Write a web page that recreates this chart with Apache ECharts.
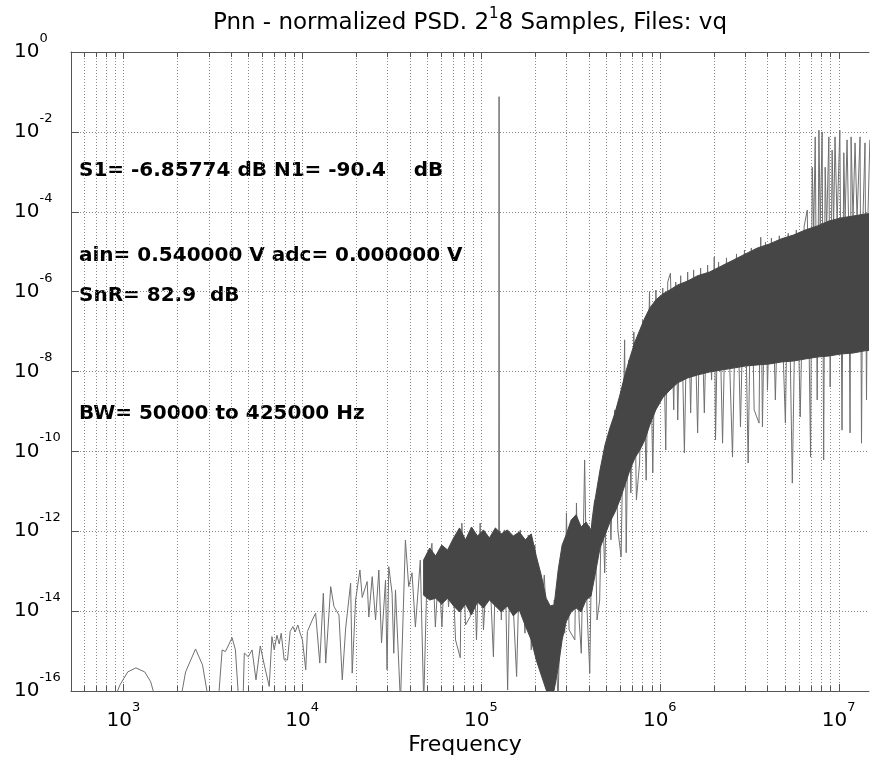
<!DOCTYPE html>
<html>
<head>
<meta charset="utf-8">
<script src="https://cdn.jsdelivr.net/npm/echarts@6/dist/echarts.min.js"></script>
<style>
html,body{margin:0;padding:0;background:#fff;}
#chart{width:872px;height:763px;}
</style>
</head>
<body>
<div id="chart"></div>
<script>
// ---------------- data ----------------
const titlePre = 'Pnn - normalized PSD. 2';
const titleSup = '1';
const titlePost = '8 Samples, Files: vq';
const xAxisName = 'Frequency';
const notes = [
  'S1= -6.85774 dB N1= -90.4    dB',
  'ain= 0.540000 V adc= 0.000000 V',
  'SnR= 82.9  dB',
  'BW= 50000 to 425000 Hz'
];
const xMin = 510, xMax = 1.479e7;
const yMin = 1e-16, yMax = 1;
const xMajorTicks = [1e3, 1e4, 1e5, 1e6, 1e7];
const xMinorMultipliers = [2, 3, 4, 5, 6, 7, 8, 9];

// sparse trace (lobes, noise, spikes): frequency [Hz] and PSD
const traceFreq = [
  889, 956, 1059, 1175, 1318, 1423, 1518,
  2090, 2230, 2535, 2773, 2994,
  3404, 3570, 3724, 4059, 4236, 4416,
  4674, 4750, 5000, 5248, 5521, 5834, 6142, 6548, 6778, 6983, 7228, 7447, 7640, 7938, 8283, 8573, 8876, 9141, 9463, 9746,
  1.004e4, 1.048e4, 1.07e4, 1.14e4, 1.19e4, 1.255e4, 1.314e4, 1.355e4, 1.445e4, 1.507e4, 1.607e4, 1.677e4, 1.752e4, 1.867e4, 1.906e4, 1.991e4,
  2.105e4, 2.168e4, 2.31e4, 2.36e4, 2.465e4, 2.574e4, 2.685e4, 2.78e4, 2.927e4, 2.985e4, 3.052e4, 3.185e4, 3.255e4, 3.327e4, 3.548e4, 3.781e4, 3.946e4,
  4.118e4, 4.3e4, 4.58e4, 4.786e4, 4.99e4, 5.32e4, 5.56e4, 5.8e4, 6.05e4, 6.32e4, 6.59e4, 6.88e4, 7.21e4, 7.66e4, 7.82e4, 8.2e4, 8.71e4, 9.08e4, 9.44e4, 9.9e4,
  1.033e5, 1.101e5, 1.174e5, 1.219e5, 1.258e5, 1.263e5, 1.268e5, 1.30e5, 1.352e5, 1.41e5, 1.459e5, 1.583e5, 1.66e5, 1.762e5, 1.84e5, 1.911e5, 2.0e5, 2.09e5, 2.26e5, 2.44e5, 2.57e5, 2.70e5, 2.81e5, 2.94e5,
  3.006e5, 3.11e5, 3.35e5, 3.42e5, 3.54e5, 3.64e5, 3.80e5, 3.92e5, 4.06e5, 4.18e5, 4.325e5, 4.457e5, 4.613e5, 4.75e5, 4.92e5, 5.13e5, 5.33e5, 5.59e5, 5.83e5, 6.08e5, 6.36e5, 6.49e5, 6.72e5, 6.89e5, 7.16e5, 7.4e5, 7.71e5, 8.04e5, 8.39e5, 8.76e5, 9.14e5, 9.51e5, 9.96e5,
  1.039e6, 1.08e6, 1.108e6, 1.147e6, 1.197e6, 1.228e6, 1.26e6, 1.309e6, 1.373e6, 1.432e6, 1.488e6, 1.546e6, 1.628e6, 1.692e6, 1.775e6, 1.851e6, 1.949e6, 2.017e6, 2.05e6, 2.132e6, 2.244e6, 2.36e6, 2.551e6, 2.685e6, 2.826e6, 2.975e6,
  3.12e6, 3.25e6, 3.37e6, 3.59e6, 3.67e6, 3.75e6, 3.90e6, 4.0e6, 4.21e6, 4.43e6, 4.66e6, 5.04e6, 5.23e6, 5.51e6, 5.80e6, 6.10e6, 6.42e6, 6.68e6, 6.97e6, 7.12e6, 7.26e6, 7.40e6, 7.59e6, 7.76e6, 7.89e6, 8.09e6, 8.25e6, 8.41e6, 8.57e6, 8.82e6, 8.97e6,
  9.2e6, 9.38e6, 9.55e6, 9.81e6, 1.016e7, 1.045e7, 1.069e7, 1.087e7, 1.115e7, 1.137e7, 1.159e7, 1.174e7, 1.204e7, 1.236e7, 1.268e7, 1.318e7, 1.343e7, 1.369e7, 1.405e7, 1.432e7, 1.459e7, 1.496e7
];
const tracePsd = [
  6e-17, 1.4e-16, 3.0e-16, 3.8e-16, 3.0e-16, 1.7e-16, 6e-17,
  6e-17, 3.0e-16, 1.13e-15, 4.5e-16, 6e-17,
  6e-17, 1.07e-15, 9.7e-16, 2.16e-15, 1.07e-15, 6e-17,
  6e-17, 8.9e-16, 7.2e-16, 1.07e-15, 1.9e-16, 1.34e-15, 4.5e-16, 1.3e-16, 2.3e-15, 1.07e-15, 2.5e-15, 1.5e-15, 2.8e-15, 6.0e-16, 6.0e-16, 3.1e-15, 4.1e-15, 3.0e-15, 4.5e-15, 2.8e-15,
  1.9e-15, 3.4e-16, 3.1e-15, 6.0e-15, 8.9e-15, 5.0e-16, 2.8e-14, 5.0e-16, 4.1e-14, 1.3e-14, 8.0e-15, 1.9e-16, 3.8e-15, 5.0e-14, 2.8e-16, 1.9e-14,
  1.07e-13, 2.2e-14, 5.5e-14, 7.1e-15, 7.3e-14, 6.0e-15, 1.07e-13, 1.6e-15, 6.0e-14, 3.4e-16, 1.3e-13, 2.8e-14, 8.8e-16, 3.4e-14, 5e-17, 6.0e-13, 4.1e-14,
  9.1e-14, 4.0e-15, 1.9e-13, 5e-17, 7.2e-14, 5.0e-13, 4.0e-15, 1.27e-13, 4.0e-15, 3.4e-13, 1.27e-14, 4.1e-13, 1.9e-15, 6.8e-16, 1.6e-12, 4.5e-15, 7.3e-15, 1.07e-12, 1.9e-15, 1.6e-12,
  3.4e-15, 6e-13, 7.2e-16, 1.08e-12, 6e-13, 7.6e-2, 6e-13, 6.0e-15, 1.08e-12, 1.06e-16, 4.5e-13, 2.3e-16, 1.08e-12, 2.8e-15, 8.1e-13, 1.07e-15, 4.5e-13, 4.5e-16, 8.0e-14, 5e-17, 1.9e-14, 5e-17, 1.9e-13, 2.8e-15,
  2.9e-12, 3.4e-15, 1.9e-15, 5.1e-12, 6e-15, 8.8e-16, 6.1e-11, 1.07e-14, 2.8e-16, 1.9e-12, 6.1e-12, 6e-15, 1.9e-14, 1.9e-11, 9.1e-14, 1.93e-10, 6.1e-13, 1.09e-9, 1.08e-12, 2.3e-13, 6.2e-8, 2.9e-13, 1.95e-8, 9.1e-12, 9.8e-8, 6.1e-12, 5.1e-11, 1.95e-7, 1.9e-11, 1.0e-6, 2.9e-11, 1.1e-6, 1.94e-9,
  1.23e-6, 1.08e-10, 1.74e-6, 2.9e-6, 1.1e-9, 1.74e-6, 6.1e-10, 2.5e-6, 9.1e-11, 3.1e-6, 9.2e-10, 3.5e-6, 2.9e-10, 3.9e-6, 9.2e-10, 4.6e-6, 6.1e-9, 7.4e-6, 1.93e-10, 5.5e-6, 1.6e-10, 7.0e-6, 7.2e-11, 8.8e-6, 4.1e-10, 1.1e-5,
  5.1e-11, 1.24e-5, 1.1e-9, 5.1e-10, 2.3e-5, 4.1e-10, 1.75e-5, 3.4e-9, 2.2e-5, 1.94e-9, 2.5e-5, 5.1e-10, 2.9e-5, 1.6e-11, 3.5e-5, 7.3e-10, 4.4e-5, 1.1e-4, 7.2e-11, 1.3e-3, 3.9e-5, 7.5e-3, 1.94e-9, 1.1e-2, 4.7e-5, 1.0e-2, 6.1e-11, 1.3e-3, 3.9e-5, 7.5e-3, 4.1e-9,
  3.5e-3, 4.7e-5, 7.5e-3, 5.5e-5, 1.1e-2, 3.4e-10, 3.0e-3, 6.2e-5, 6.3e-3, 6.2e-5, 2.9e-10, 7.5e-3, 6.9e-5, 5.3e-3, 6.9e-5, 7.5e-3, 1.6e-10, 7.8e-5, 5.3e-3, 1.94e-9, 8.3e-5, 6.3e-3
];

// dense core of the noise band: frequency, upper edge, lower edge
const bandFreq = [
  4.78e4, 5.17e4, 5.58e4, 6.03e4, 6.51e4, 7.03e4, 7.59e4, 8.20e4, 8.85e4, 9.56e4, 1.033e5, 1.115e5, 1.204e5, 1.301e5, 1.405e5, 1.517e5,
  1.639e5, 1.770e5, 1.911e5, 2.038e5, 2.173e5, 2.317e5, 2.439e5, 2.567e5, 2.703e5, 2.844e5, 2.995e5, 3.193e5, 3.404e5, 3.630e5, 3.870e5, 4.127e5,
  4.345e5, 4.632e5, 4.94e5, 5.266e5, 5.615e5, 5.987e5, 6.383e5, 6.806e5, 7.257e5, 7.737e5, 8.25e5, 8.796e5, 9.50e5, 1.039e6, 1.137e6, 1.260e6,
  1.432e6, 1.628e6, 1.899e6, 2.215e6, 2.584e6, 3.013e6, 3.516e6, 4.101e6, 4.783e6, 5.579e6, 6.509e6, 7.592e6, 8.855e6, 1.033e7, 1.204e7, 1.405e7, 1.639e7
];
const bandHigh = [
  1.9e-13, 3.8e-13, 2.4e-13, 4.5e-13, 3.4e-13, 6.8e-13, 1.21e-12, 6.1e-13, 1.28e-12, 7.6e-13, 1.08e-12, 6.8e-13, 1.21e-12, 8.6e-13, 1.08e-12, 7.6e-13,
  9.6e-13, 6.1e-13, 8.6e-13, 2.4e-13, 8.0e-14, 2.1e-14, 1.35e-14, 1.43e-14, 1.07e-13, 4.5e-13, 8.1e-13, 1.9e-12, 2.6e-12, 1.28e-12, 1.7e-12, 1.08e-12,
  6.1e-12, 3.4e-11, 1.45e-10, 3.9e-10, 9.1e-10, 2.6e-9, 8.2e-9, 2.2e-8, 5.5e-8, 1.1e-7, 2.2e-7, 3.9e-7, 6.2e-7, 8.7e-7, 1.1e-6, 1.47e-6,
  1.85e-6, 2.5e-6, 3.1e-6, 4.4e-6, 6.2e-6, 8.8e-6, 1.24e-5, 1.56e-5, 2.1e-5, 2.6e-5, 3.5e-5, 4.4e-5, 5.9e-5, 7.0e-5, 7.8e-5, 8.8e-5, 9.3e-5
];
const bandLow = [
  2.5e-14, 1.9e-14, 2.1e-14, 1.5e-14, 2.1e-14, 1.35e-14, 9.5e-15, 1.5e-14, 8.0e-15, 1.7e-14, 1.2e-14, 1.9e-14, 1.35e-14, 9.5e-15, 1.35e-14, 7.6e-15,
  1.07e-14, 4.3e-15, 1.9e-15, 6.0e-16, 2.5e-16, 1.06e-16, 6e-17, 1.06e-16, 3.8e-16, 1.9e-15, 5.4e-15, 9.5e-15, 1.2e-14, 9.5e-15, 1.9e-14, 2.4e-14,
  8.0e-14, 3.8e-13, 8.1e-13, 1.7e-12, 3.0e-12, 6.1e-12, 1.44e-11, 3.4e-11, 6.8e-11, 1.08e-10, 1.93e-10, 4.6e-10, 1.09e-9, 2.2e-9, 3.4e-9, 5.2e-9,
  6.9e-9, 8.2e-9, 9.7e-9, 1.09e-8, 1.22e-8, 1.37e-8, 1.46e-8, 1.54e-8, 1.73e-8, 1.83e-8, 2.06e-8, 2.3e-8, 2.45e-8, 2.75e-8, 2.9e-8, 3.3e-8, 3.5e-8
];

// ---------------- chart ----------------
const FONT = '"DejaVu Sans", "Liberation Sans", sans-serif';
const GRID_COLOR = '#8a8a8a';
const AXIS_COLOR = '#555';

const xGridData = [];
xMajorTicks.forEach(function (d) {
  xGridData.push([d, yMax, 1]);
  xMinorMultipliers.forEach(function (m) {
    const v = d / 10 * m;
    if (v > xMin && v < xMax) xGridData.push([v, yMax, 0]);
  });
});
xMinorMultipliers.forEach(function (m) {
  const v = 1e7 * m;
  if (v > xMin && v < xMax) xGridData.push([v, yMax, 0]);
});

function px(v) { return Math.round(v) + 0.5; }

function renderXGrid(params, api) {
  const f = api.value(0);
  const major = api.value(2) === 1;
  const top = api.coord([f, yMax]);
  const bot = api.coord([f, yMin]);
  const x = px(top[0]);
  const tl = major ? 7 : 5;
  return {
    type: 'group',
    children: [
      { type: 'line', shape: { x1: x, y1: top[1], x2: x, y2: bot[1] },
        style: { stroke: GRID_COLOR, lineWidth: 1, lineDash: [1, 2] } },
      { type: 'line', shape: { x1: x, y1: bot[1], x2: x, y2: bot[1] - tl },
        style: { stroke: AXIS_COLOR, lineWidth: 1 } },
      { type: 'line', shape: { x1: x, y1: top[1], x2: x, y2: top[1] + tl },
        style: { stroke: AXIS_COLOR, lineWidth: 1 } }
    ]
  };
}

function renderBand(params, api) {
  if (params.dataIndex !== 0) return null;
  const pts = [];
  for (let i = 0; i < bandFreq.length; i++) pts.push(api.coord([bandFreq[i], bandHigh[i]]));
  for (let i = bandFreq.length - 1; i >= 0; i--) pts.push(api.coord([bandFreq[i], bandLow[i]]));
  return {
    type: 'polygon',
    shape: { points: pts },
    style: { fill: '#464646', stroke: '#464646', lineWidth: 1 }
  };
}

function powLabel(v) {
  const e = Math.log10(v);
  if (Math.abs(e - Math.round(e)) > 1e-6) return '';
  return '{b|10}{s|' + Math.round(e) + '}';
}

const labelRich = {
  b: { fontSize: 20, fontFamily: FONT, color: '#000', lineHeight: 40, verticalAlign: 'middle' },
  s: { fontSize: 13, fontFamily: FONT, color: '#000', verticalAlign: 'top' }
};

const noteStyle = { fontSize: 20, fontWeight: 'bold', fontFamily: FONT, fill: '#000', verticalAlign: 'middle' };

const chart = echarts.init(document.getElementById('chart'), null, { renderer: 'canvas' });
chart.setOption({
  animation: false,
  backgroundColor: '#fff',
  grid: { left: 71, top: 52, right: 0, bottom: 72, containLabel: false },
  xAxis: [
    {
      type: 'log', logBase: 10, min: xMin, max: xMax,
      axisLine: { show: true, lineStyle: { color: AXIS_COLOR, width: 1 } },
      axisTick: { show: false },
      splitLine: { show: false },
      minorTick: { show: false },
      axisLabel: {
        show: true, margin: 10, formatter: powLabel, rich: labelRich,
        showMinLabel: true, showMaxLabel: true, hideOverlap: false
      }
    },
    {
      type: 'log', logBase: 10, min: xMin, max: xMax, position: 'top',
      axisLine: { show: true, lineStyle: { color: AXIS_COLOR, width: 1 } },
      axisTick: { show: false }, axisLabel: { show: false }, splitLine: { show: false }
    }
  ],
  yAxis: {
    type: 'log', logBase: 100, min: yMin, max: yMax,
    axisLine: { show: true, lineStyle: { color: AXIS_COLOR, width: 1 } },
    axisTick: { show: true, inside: true, length: 8, lineStyle: { color: AXIS_COLOR } },
    splitLine: { show: true, lineStyle: { color: GRID_COLOR, width: 1, type: [1, 2] } },
    axisLabel: {
      show: true, align: 'left', margin: 57, formatter: powLabel, rich: labelRich,
      hideOverlap: false
    }
  },
  graphic: [
    {
      type: 'text', x: 470, y: 23, silent: true,
      style: {
        text: titlePre + '{s|' + titleSup + '}' + titlePost,
        fontSize: 23, fontFamily: FONT, fill: '#000', lineHeight: 32,
        align: 'center', verticalAlign: 'middle',
        rich: { s: { fontSize: 15, fontFamily: FONT, fill: '#000', verticalAlign: 'top' } }
      }
    },
    {
      type: 'text', x: 465, y: 745, silent: true,
      style: { text: xAxisName, fontSize: 22, fontFamily: FONT, fill: '#000', align: 'center', verticalAlign: 'middle' }
    },
    { type: 'text', x: 79, y: 171, silent: true, style: Object.assign({ text: notes[0] }, noteStyle) },
    { type: 'text', x: 79, y: 256, silent: true, style: Object.assign({ text: notes[1] }, noteStyle) },
    { type: 'text', x: 79, y: 296, silent: true, style: Object.assign({ text: notes[2] }, noteStyle) },
    { type: 'text', x: 79, y: 414, silent: true, style: Object.assign({ text: notes[3] }, noteStyle) }
  ],
  series: [
    {
      type: 'custom', name: 'xgrid', xAxisIndex: 0, yAxisIndex: 0, silent: true, z: 1,
      renderItem: renderXGrid, data: xGridData, encode: { x: 0, y: 1 }, clip: false
    },
    {
      type: 'line', name: 'PSD', xAxisIndex: 0, yAxisIndex: 0, z: 2,
      data: traceFreq.map(function (f, i) { return [f, tracePsd[i]]; }),
      showSymbol: false, symbol: 'none', sampling: null, clip: true,
      lineStyle: { color: '#707070', width: 1 }, silent: true
    },
    {
      type: 'custom', name: 'band', xAxisIndex: 0, yAxisIndex: 0, z: 3, silent: true,
      renderItem: renderBand, clip: true,
      data: bandFreq.map(function (f, i) { return [f, bandHigh[i]]; }), encode: { x: 0, y: 1 }
    }
  ]
});
</script>
</body>
</html>
